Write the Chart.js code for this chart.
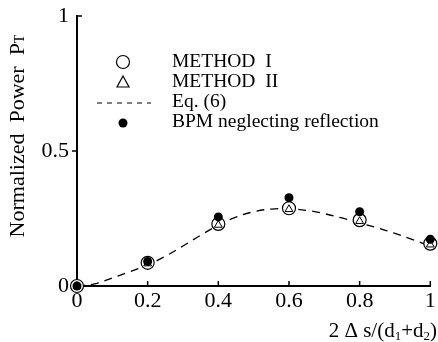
<!DOCTYPE html>
<html>
<head>
<meta charset="utf-8">
<script src="https://cdn.jsdelivr.net/npm/chart.js@4.4.0/dist/chart.umd.min.js"></script>
<style>
  html, body { margin: 0; padding: 0; background: #fff; }
</style>
</head>
<body>
<canvas id="chartPower" width="438" height="342"></canvas>
<script>
// values
var xValues = [0, 0.2, 0.4, 0.6, 0.8, 1];
var method1 = [0, 0.086, 0.230, 0.288, 0.244, 0.157];
var method2 = [0, 0.083, 0.226, 0.284, 0.240, 0.153];
var bpm     = [0, 0.091, 0.256, 0.327, 0.275, 0.173];

// Eq. (6) curve
var eqX = [0, 0.05, 0.1, 0.15, 0.2, 0.25, 0.3, 0.35, 0.4, 0.45, 0.5, 0.55, 0.6, 0.65, 0.7, 0.75, 0.8, 0.85, 0.9, 0.95, 1];
var eqY = [0, 0.008, 0.03, 0.053, 0.078, 0.11, 0.148, 0.188, 0.225, 0.255, 0.275, 0.285, 0.286, 0.28, 0.268, 0.252, 0.234, 0.215, 0.195, 0.172, 0.148];

var xTicks = [0, 0.2, 0.4, 0.6, 0.8, 1];
var yTicks = [0, 0.5, 1];

var serif = 'Liberation Serif';

function toPoints(xs, ys) {
  return xs.map(function(x, i) {
    return {x: x, y: ys[i]};
  });
}

function fixedTicks(list) {
  return function(scale) {
    scale.ticks = list.map(function(v) { return {value: v}; });
  };
}

function plainLabel(v) {
  return String(v);
}

// draws a run of text pieces [text, size, dy] starting at x
function drawPieces(ctx, pieces, x, y) {
  pieces.forEach(function(p) {
    ctx.font = p[1] + 'px "' + serif + '"';
    ctx.fillText(p[0], x, y + p[2]);
    x += ctx.measureText(p[0]).width;
  });
}

function piecesWidth(ctx, pieces) {
  let w = 0;
  pieces.forEach(function(p) {
    ctx.font = p[1] + 'px "' + serif + '"';
    w += ctx.measureText(p[0]).width;
  });
  return w;
}

// inward ticks, legend and axis titles
var decorations = {
  id: 'decorations',
  afterDraw: function(chart) {
    let ctx = chart.ctx;
    let xs = chart.scales.x, ys = chart.scales.y;
    let x0 = xs.getPixelForValue(0), y0 = ys.getPixelForValue(0);

    ctx.save();
    ctx.strokeStyle = '#000';
    ctx.lineWidth = 1.5;
    ctx.beginPath();
    xTicks.slice(1).forEach(function(v) {
      let px = xs.getPixelForValue(v);
      ctx.moveTo(px, y0);
      ctx.lineTo(px, y0 - 5);
    });
    let pyHalf = ys.getPixelForValue(0.5), pyTop = ys.getPixelForValue(1);
    ctx.moveTo(x0, pyHalf);
    ctx.lineTo(x0 - 5, pyHalf);
    ctx.moveTo(x0 - 1, pyTop);
    ctx.lineTo(x0 + 5, pyTop);
    ctx.stroke();

    // legend
    ctx.fillStyle = '#000';
    ctx.lineWidth = 1.2;
    ctx.beginPath();
    ctx.arc(123, 62, 6.5, 0, Math.PI * 2);
    ctx.stroke();
    ctx.beginPath();
    ctx.moveTo(123, 76);
    ctx.lineTo(129, 87);
    ctx.lineTo(117, 87);
    ctx.closePath();
    ctx.stroke();
    ctx.setLineDash([5, 5]);
    ctx.beginPath();
    ctx.moveTo(97, 103);
    ctx.lineTo(151, 103);
    ctx.stroke();
    ctx.setLineDash([]);
    ctx.beginPath();
    ctx.arc(123, 123, 4.5, 0, Math.PI * 2);
    ctx.fill();

    ctx.font = '19.5px "' + serif + '"';
    ctx.textBaseline = 'middle';
    ctx.textAlign = 'left';
    ctx.fillText('METHOD  I', 172, 62);
    ctx.fillText('METHOD  II', 172, 82);
    ctx.fillText('Eq. (6)', 172, 102);
    ctx.fillText('BPM neglecting reflection', 172, 122);

    // x title with subscripts
    let parts = [['2 \u0394 s/(d', 21, 0], ['1', 13, 3], ['+d', 21, 0], ['2', 13, 3], [')', 21, 0]];
    ctx.textBaseline = 'alphabetic';
    drawPieces(ctx, parts, 437 - piecesWidth(ctx, parts), 337);

    // y title, rotated
    ctx.translate(18, 136);
    ctx.rotate(-Math.PI / 2);
    let yParts = [['Normalized  Power  P', 22, 0], ['T', 14, 2]];
    ctx.textBaseline = 'middle';
    drawPieces(ctx, yParts, -piecesWidth(ctx, yParts) / 2, 0);
    ctx.restore();
  }
};

var chartPowerCanvas = document.getElementById('chartPower').getContext('2d');

var powerChart = new Chart(chartPowerCanvas, {
  type: 'scatter',
  data: {
    datasets: [{
      label: 'BPM neglecting reflection',
      data: toPoints(xValues, bpm),
      pointStyle: 'circle',
      pointRadius: 4.5,
      backgroundColor: '#000',
      borderColor: '#000',
      borderWidth: 0,
      clip: false,
    }, {
      label: 'METHOD II',
      data: toPoints(xValues, method2),
      pointStyle: 'triangle',
      pointRadius: 4.5,
      backgroundColor: 'rgba(0,0,0,0)',
      borderColor: '#000',
      borderWidth: 1,
      clip: false,
    }, {
      label: 'METHOD I',
      data: toPoints(xValues, method1),
      pointStyle: 'circle',
      pointRadius: 6.5,
      backgroundColor: '#fff',
      borderColor: '#000',
      borderWidth: 1.2,
      clip: false,
    }, {
      label: 'Eq. (6)',
      type: 'line',
      data: toPoints(eqX, eqY),
      borderColor: '#000',
      borderWidth: 1.3,
      borderDash: [8, 6],
      pointRadius: 0,
      tension: 0.4,
      fill: false,
      clip: false,
    }],
  },
  options: {
    responsive: false,
    devicePixelRatio: 1,
    animation: false,
    layout: {padding: {top: 16, right: 0, left: 0, bottom: 0}},
    plugins: {legend: {display: false}, tooltip: {enabled: false}},
    scales: {
      x: {
        type: 'linear',
        min: 0,
        max: 1,
        afterBuildTicks: fixedTicks(xTicks),
        afterFit: function(scale) {
          scale.height = 56;
          scale.paddingLeft = 0;
          scale.paddingRight = 0;
        },
        border: {color: '#000', width: 2},
        grid: {drawOnChartArea: false, drawTicks: false},
        ticks: {color: '#000', padding: 2, callback: plainLabel, font: {family: serif, size: 22}},
      },
      y: {
        min: 0,
        max: 1,
        afterBuildTicks: fixedTicks(yTicks),
        afterFit: function(scale) {
          scale.width = 77;
          scale.paddingTop = 0;
          scale.paddingBottom = 0;
        },
        border: {color: '#000', width: 2},
        grid: {drawOnChartArea: false, drawTicks: false},
        ticks: {color: '#000', padding: 8, callback: plainLabel, font: {family: serif, size: 22}},
      },
    },
  },
  plugins: [decorations],
});
</script>
</body>
</html>
